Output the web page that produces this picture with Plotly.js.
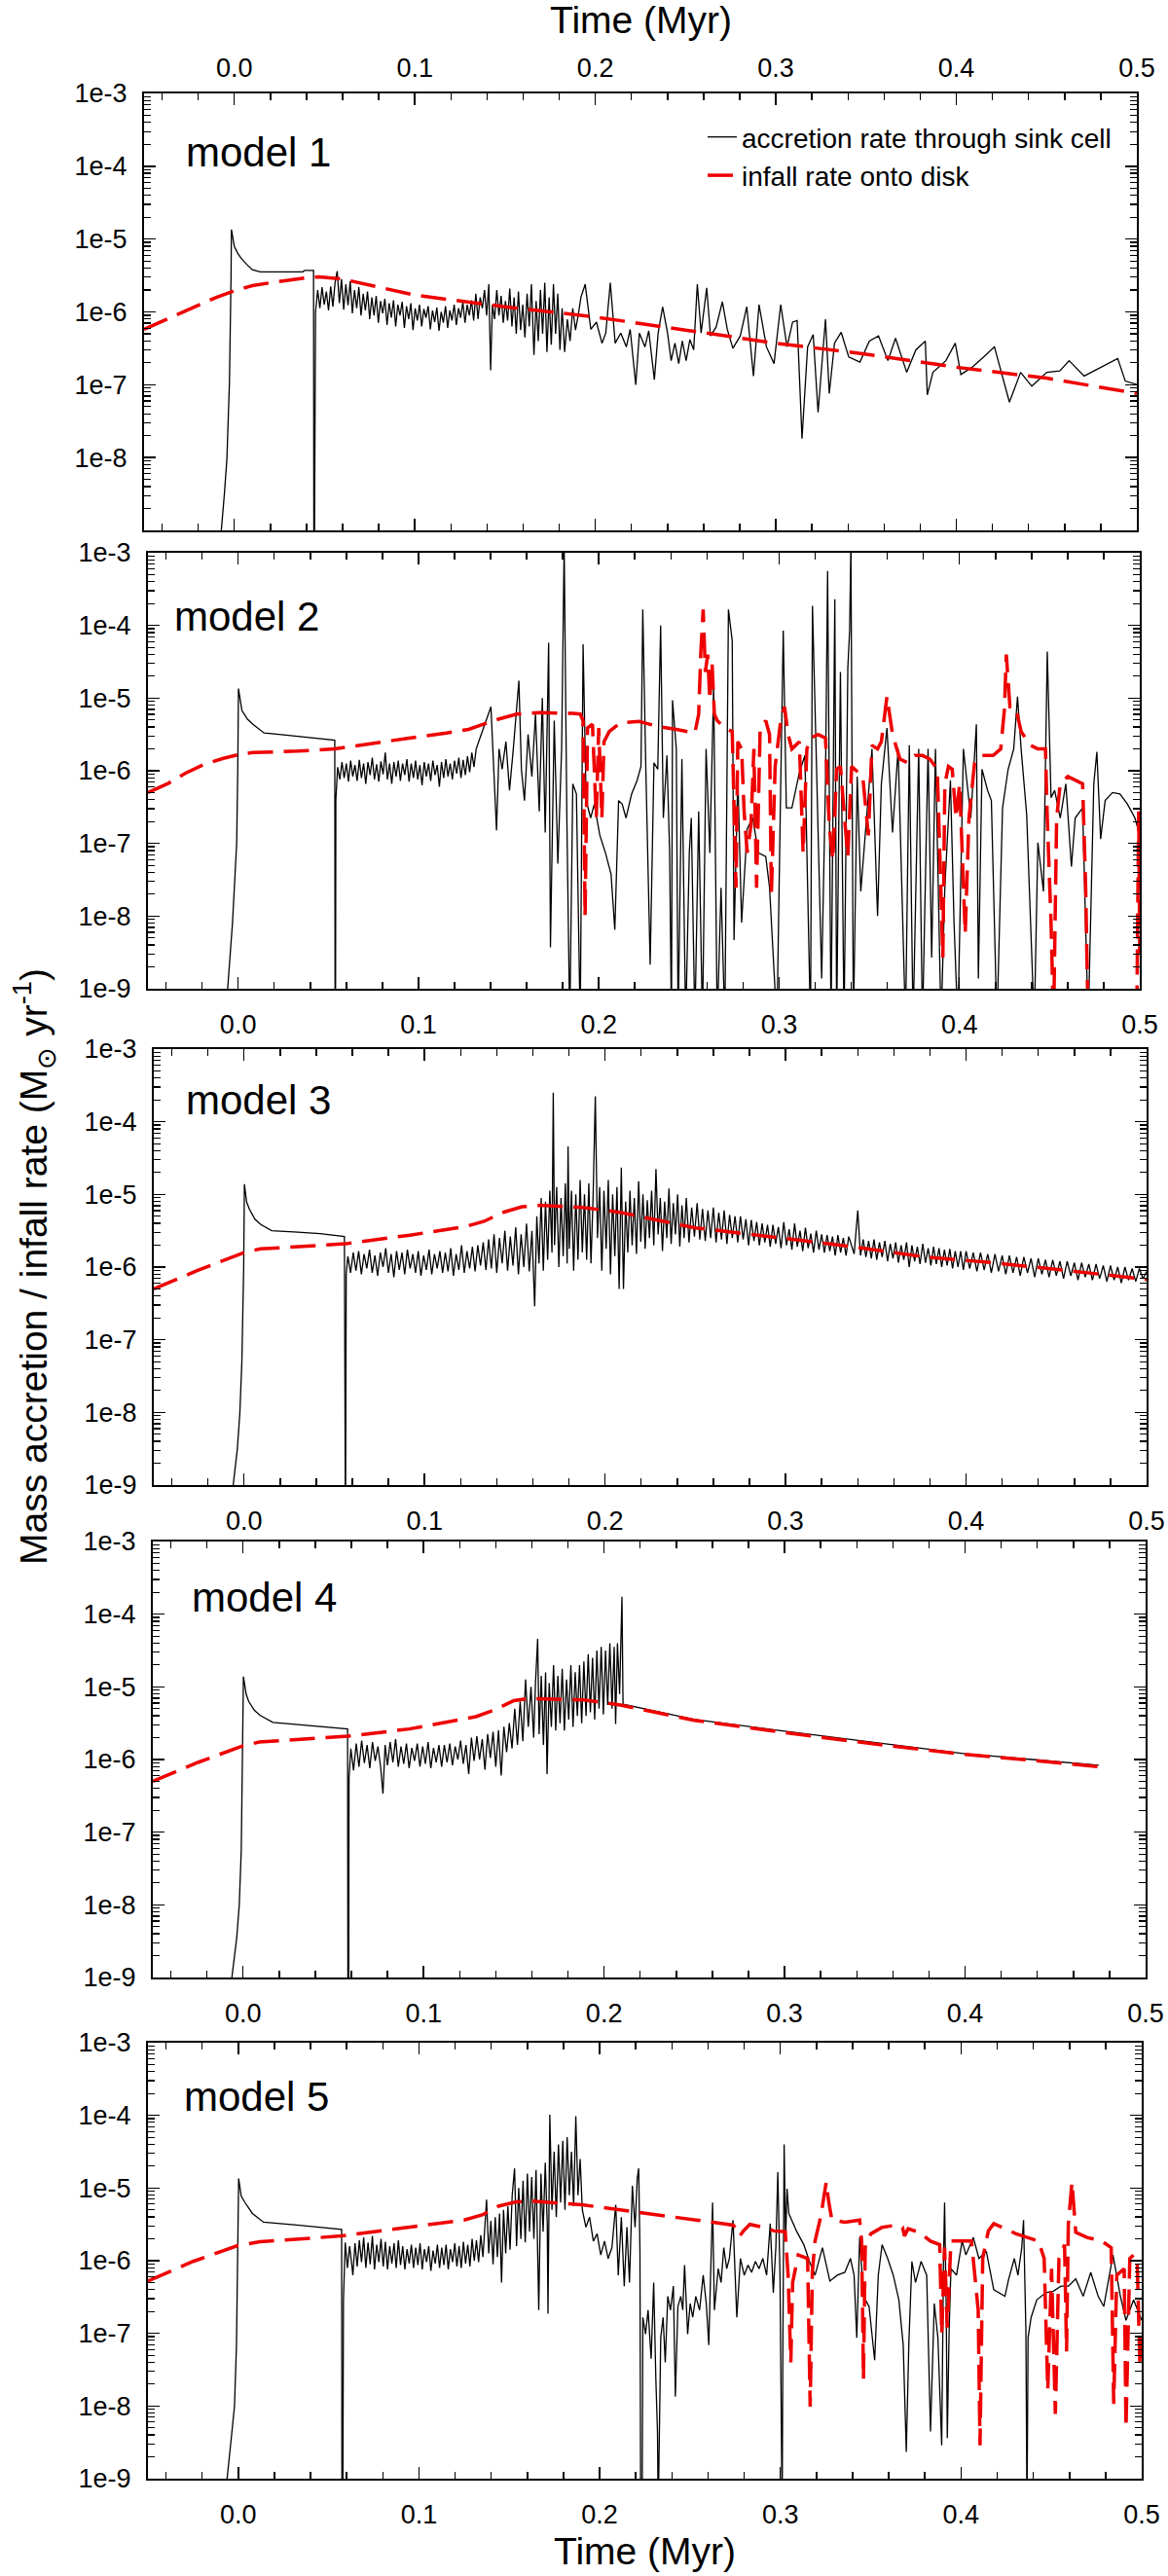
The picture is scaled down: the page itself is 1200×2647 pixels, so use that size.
<!DOCTYPE html>
<html>
<head>
<meta charset="utf-8">
<script src="https://cdn.plot.ly/plotly-3.0.1.min.js"></script>
<style>
html, body {margin: 0; padding: 0; background: #fff;}
#chart {width: 1200px; height: 2647px;}
</style>
</head>
<body>
<div id="chart"></div>
<script>
// values: [time (Myr), log10 of rate (Msun/yr)]
// points below -9 / above -3 sit outside the axis range and get clipped, as in the original

const m1_acc = [
	[-0.0080,-9.6],[-0.0072,-9.0],[-0.0055,-8.5],[-0.0041,-8.02],[-0.0027,-6.97],[-0.0020,-6.0],[-0.0018,-5.5],[-0.0016,-4.87],
	[-0.0010,-4.98],[0.0,-5.10],[0.002,-5.20],[0.004,-5.27],[0.007,-5.35],[0.010,-5.42],[0.0144,-5.45],[0.025,-5.45],[0.038,-5.45],
	[0.039,-5.43],[0.0439,-5.43],[0.0441,-9.8],[0.0443,-9.8],
	[0.0450,-6.00],[0.0462,-5.70],[0.0474,-5.95],[0.0486,-5.66],[0.0498,-5.90],[0.0510,-5.72],[0.0522,-5.98],[0.0534,-5.65],
	[0.0546,-5.93],[0.0558,-5.60],[0.0570,-5.44],[0.0582,-5.88],[0.0594,-5.55],[0.0606,-5.97],[0.0618,-5.62],[0.0630,-5.91],
	[0.0642,-5.58],[0.0654,-6.02],[0.0666,-5.70],[0.0678,-5.95],[0.0690,-5.66],[0.0702,-6.05],[0.0714,-5.75],[0.0726,-5.98],
	[0.0738,-5.72],[0.0750,-6.10],[0.0762,-5.80],[0.0774,-6.05],[0.0786,-5.78],[0.0798,-6.15],[0.0810,-5.85],[0.0822,-6.02],
	[0.0834,-5.82],[0.0846,-6.18],[0.0858,-5.88],[0.0870,-6.08],[0.0882,-5.84],[0.0894,-6.20],[0.0906,-5.90],[0.0918,-6.05],
	[0.0930,-5.86],[0.0942,-6.22],[0.0954,-5.92],[0.0966,-6.10],[0.0978,-5.88],[0.0990,-6.25],[0.1002,-5.95],[0.1014,-6.12],
	[0.1026,-5.90],[0.1038,-6.20],[0.1050,-5.96],[0.1062,-6.08],[0.1074,-5.92],[0.1086,-6.24],[0.1098,-5.98],[0.1110,-6.14],
	[0.1122,-5.94],[0.1134,-6.26],[0.1146,-6.00],[0.1158,-6.15],[0.1170,-5.92],[0.1182,-6.22],[0.1194,-5.98],[0.1206,-6.12],
	[0.1218,-5.90],[0.1230,-6.18],[0.1242,-5.95],[0.1254,-6.08],[0.1266,-5.86],[0.1278,-6.15],[0.1290,-5.90],[0.1302,-6.05],
	[0.1314,-5.84],[0.1326,-6.12],[0.1338,-5.75],[0.1350,-6.10],[0.1362,-5.80],[0.1374,-5.95],[0.1386,-5.70],[0.1398,-6.05],
	[0.1410,-5.62],[0.1420,-6.80],[0.1430,-5.90],[0.1442,-6.10],[0.1454,-5.70],[0.1466,-6.05],[0.1478,-5.78],[0.1490,-6.15],
	[0.1502,-5.85],[0.1514,-6.12],[0.1526,-5.68],[0.1538,-6.20],[0.1550,-5.80],[0.1562,-6.30],[0.1574,-5.72],[0.1586,-6.25],
	[0.1598,-5.90],[0.1610,-6.35],[0.1622,-5.75],[0.1634,-6.20],[0.1646,-5.62],[0.1660,-6.59],[0.1672,-5.85],[0.1684,-6.40],
	[0.1696,-5.70],[0.1708,-6.30],[0.1720,-5.60],[0.1732,-6.55],[0.1744,-5.80],[0.1756,-6.45],[0.1768,-5.62],[0.1780,-6.30],
	[0.1792,-5.75],[0.1804,-6.52],[0.1816,-5.95],[0.1830,-6.55],[0.1845,-6.10],[0.1860,-6.40],[0.1875,-5.95],[0.1890,-6.25],
	[0.1905,-6.05],[0.1920,-5.80],
	[0.1944,-5.62],[0.1975,-6.24],[0.2006,-6.14],[0.2037,-6.43],[0.2058,-6.29],[0.2083,-5.60],[0.2110,-6.43],[0.2141,-6.29],
	[0.2172,-6.48],[0.2193,-6.24],[0.2224,-7.00],[0.2244,-6.29],[0.2275,-6.48],[0.2296,-6.26],[0.2327,-6.93],[0.2348,-6.29],
	[0.2373,-5.93],[0.2400,-6.29],[0.2420,-6.67],[0.2441,-6.43],[0.2462,-6.71],[0.2482,-6.40],[0.2503,-6.67],[0.2524,-6.38],
	[0.2545,-6.52],[0.2565,-5.62],[0.2586,-6.29],[0.2617,-5.67],[0.2638,-6.33],[0.2669,-6.21],[0.2704,-5.86],[0.2731,-6.24],
	[0.2762,-6.50],[0.2803,-6.33],[0.2839,-5.93],[0.2876,-6.88],[0.2907,-5.90],[0.2948,-6.48],[0.2990,-6.71],[0.3027,-5.90],
	[0.3062,-6.48],[0.3093,-6.14],[0.3118,-6.12],[0.3145,-7.74],[0.3176,-6.48],[0.3207,-6.31],[0.3234,-7.38],[0.3275,-6.10],
	[0.3296,-7.12],[0.3325,-6.43],[0.3362,-6.28],[0.3404,-6.62],[0.3466,-6.69],[0.3518,-6.40],[0.3569,-6.33],[0.3621,-6.67],
	[0.3663,-6.36],[0.3725,-6.83],[0.3776,-6.52],[0.3828,-6.40],[0.3839,-7.14],[0.3870,-6.83],[0.3942,-6.67],[0.3994,-6.43],
	[0.4025,-6.86],[0.4087,-6.76],[0.4159,-6.60],[0.4211,-6.48],[0.4294,-7.24],[0.4356,-6.83],[0.4418,-7.02],[0.4501,-6.83],
	[0.4573,-6.81],[0.4625,-6.67],[0.4708,-6.88],[0.4812,-6.74],[0.4894,-6.64],[0.4936,-6.95],[0.5004,-7.00]
];
const m1_inf = [
	[-0.05,-6.24],[-0.04,-6.13],[-0.03,-6.02],[-0.02,-5.91],[-0.01,-5.80],[0.0,-5.71],[0.01,-5.64],[0.02,-5.60],[0.03,-5.56],
	[0.04,-5.53],[0.047,-5.52],[0.06,-5.55],[0.08,-5.66],[0.10,-5.77],[0.15,-5.93],[0.20,-6.07],[0.25,-6.25],[0.30,-6.43],
	[0.35,-6.58],[0.40,-6.76],[0.45,-6.91],[0.50,-7.12]
];

const m2_acc = [
	[-0.0066,-9.6],[-0.0058,-9.0],[-0.0031,-8.09],[-0.0014,-7.13],[-0.0008,-7.0],[-0.0002,-6.0],[0.0002,-4.87],[0.0021,-5.17],
	[0.0052,-5.29],[0.0082,-5.36],[0.0144,-5.48],[0.0227,-5.50],[0.033,-5.53],[0.0433,-5.55],[0.0536,-5.58],[0.0538,-9.8],[0.0540,-9.8],
	[0.0542,-6.40],[0.0552,-5.95],[0.0564,-6.12],[0.0576,-5.88],[0.0588,-6.10],[0.0600,-5.90],[0.0612,-6.15],[0.0624,-5.86],
	[0.0636,-6.08],[0.0648,-5.92],[0.0660,-6.14],[0.0672,-5.85],[0.0684,-6.10],[0.0696,-5.90],[0.0708,-6.18],[0.0720,-5.88],
	[0.0732,-6.06],[0.0744,-5.82],[0.0756,-6.12],[0.0768,-5.91],[0.0780,-6.15],[0.0792,-5.87],[0.0804,-6.05],[0.0816,-5.75],
	[0.0828,-6.12],[0.0840,-5.90],[0.0852,-6.18],[0.0864,-5.88],[0.0876,-6.08],[0.0888,-5.86],[0.0900,-6.14],[0.0912,-5.90],
	[0.0924,-6.06],[0.0936,-5.84],[0.0948,-6.15],[0.0960,-5.90],[0.0972,-6.10],[0.0984,-5.86],[0.0996,-6.12],[0.1008,-5.92],
	[0.1020,-6.20],[0.1032,-5.88],[0.1044,-6.08],[0.1056,-5.90],[0.1068,-6.14],[0.1080,-5.86],[0.1092,-6.06],[0.1104,-5.92],
	[0.1116,-6.22],[0.1128,-5.88],[0.1140,-6.10],[0.1152,-5.84],[0.1164,-6.08],[0.1176,-5.90],[0.1188,-6.12],[0.1200,-5.86],
	[0.1212,-6.04],[0.1224,-5.82],[0.1236,-6.10],[0.1248,-5.85],[0.1260,-6.06],[0.1272,-5.80],[0.1284,-6.02],[0.1296,-5.75],
	[0.1308,-5.95],[0.1320,-5.70],
	[0.1402,-5.12],[0.1419,-6.18],[0.1433,-6.82],[0.1447,-5.70],[0.1464,-5.98],[0.1485,-5.60],[0.1505,-6.27],[0.1526,-5.70],
	[0.1557,-4.76],[0.1571,-5.98],[0.1588,-6.41],[0.1608,-5.50],[0.1629,-6.08],[0.1649,-5.22],[0.1670,-6.56],[0.1687,-5.00],
	[0.1703,-6.85],[0.1722,-4.24],[0.1732,-8.43],[0.1753,-5.31],[0.1773,-7.28],[0.1794,-5.70],[0.1808,-2.90],[0.1823,-6.65],
	[0.1839,-9.5],[0.1856,-6.18],[0.1876,-6.32],[0.1897,-9.5],
	[0.1913,-4.26],[0.1930,-6.41],[0.1955,-6.65],[0.1975,-6.46],[0.2006,-6.89],[0.2037,-7.13],[0.2068,-7.42],[0.2089,-8.19],
	[0.2110,-6.41],[0.2130,-6.46],[0.2151,-6.65],[0.2182,-6.32],[0.2213,-6.13],[0.2234,-5.94],[0.2244,-3.78],[0.2261,-5.98],
	[0.2285,-8.67],[0.2306,-5.89],[0.2327,-5.98],[0.2343,-4.00],[0.2358,-6.65],[0.2378,-5.79],[0.2393,-7.13],[0.2403,-9.5],
	[0.2409,-5.03],[0.2430,-5.70],[0.2440,-9.5],[0.2461,-5.84],[0.2482,-9.5],[0.2502,-7.13],[0.2513,-6.65],[0.2533,-9.5],
	[0.2554,-6.56],[0.2575,-9.5],[0.2595,-5.70],[0.2616,-7.13],[0.2637,-4.83],[0.2657,-9.5],[0.2678,-7.61],[0.2699,-9.5],
	[0.2719,-3.78],[0.2740,-4.21],[0.2750,-8.33],[0.2771,-6.08],[0.2792,-8.09],[0.2823,-6.80],[0.2854,-6.65],[0.2885,-7.13],
	[0.2926,-7.18],[0.2947,-7.61],[0.2968,-8.62],[0.2988,-9.5],[0.3009,-6.18],[0.3023,-4.07],[0.3040,-6.51],[0.3071,-6.51],
	[0.3112,-6.03],[0.3143,-5.79],[0.3174,-9.5],[0.3185,-3.73],[0.3205,-5.70],[0.3236,-8.86],[0.3257,-6.18],[0.3269,-3.25],
	[0.3288,-9.5],[0.3309,-3.64],[0.3319,-9.5],[0.3340,-4.64],[0.3360,-9.5],[0.3381,-4.59],[0.3391,-4.07],[0.3398,-2.90],
	[0.3412,-9.5],[0.3433,-6.08],[0.3453,-7.66],[0.3484,-6.65],[0.3515,-5.70],[0.3546,-8.00],[0.3567,-6.18],[0.3598,-5.41],
	[0.3629,-6.85],[0.3660,-5.70],[0.3701,-9.5],[0.3722,-5.65],[0.3743,-9.5],[0.3774,-5.70],[0.3795,-9.5],[0.3826,-5.70],
	[0.3846,-8.57],[0.3867,-5.70],[0.3898,-9.5],[0.3919,-7.61],[0.3950,-6.13],[0.3970,-8.09],[0.3991,-9.5],[0.4022,-5.70],
	[0.4063,-6.65],[0.4094,-5.36],[0.4105,-8.86],[0.4125,-5.98],[0.4156,-6.27],[0.4177,-6.41],[0.4208,-9.5],[0.4239,-6.51],
	[0.4270,-5.98],[0.4301,-5.70],[0.4322,-4.98],[0.4342,-5.70],[0.4373,-6.61],[0.4415,-9.5],[0.4435,-6.99],[0.4466,-7.66],
	[0.4487,-4.36],[0.4508,-6.37],[0.4528,-6.27],[0.4559,-6.65],[0.4590,-6.18],[0.4621,-7.32],[0.4642,-6.65],[0.4683,-6.51],
	[0.4714,-9.5],[0.4745,-6.18],[0.4762,-5.74],[0.4783,-6.94],[0.4808,-6.41],[0.4849,-6.30],[0.4890,-6.32],[0.4932,-6.46],
	[0.4973,-6.65],[0.5000,-6.89]
];
const m2_inf = [
	[-0.05,-6.30],[-0.0392,-6.18],[-0.0289,-6.03],[-0.0186,-5.91],[-0.0082,-5.83],[0.0,-5.78],[0.0082,-5.75],[0.033,-5.73],
	[0.0536,-5.70],[0.0742,-5.62],[0.0948,-5.55],[0.1155,-5.48],[0.1278,-5.43],[0.1361,-5.36],[0.1443,-5.29],[0.1546,-5.22],
	[0.167,-5.20],[0.1856,-5.21],[0.1897,-5.22],[0.1913,-5.31],[0.1924,-8.00],[0.1938,-5.41],[0.1965,-5.36],[0.1986,-6.65],
	[0.2000,-5.41],[0.2017,-6.65],[0.2029,-5.60],[0.2058,-5.46],[0.2120,-5.34],[0.2223,-5.32],[0.2327,-5.39],[0.2430,-5.43],
	[0.2533,-5.48],[0.2554,-5.22],[0.2566,-4.36],[0.2579,-3.78],[0.2591,-4.64],[0.2604,-4.40],[0.2616,-5.03],[0.2628,-4.50],
	[0.2641,-5.22],[0.2657,-5.31],[0.2699,-5.41],[0.2740,-5.46],[0.2750,-6.65],[0.2761,-7.61],[0.2771,-5.60],[0.2792,-5.70],
	[0.2806,-6.56],[0.2823,-7.13],[0.2844,-6.75],[0.2860,-5.70],[0.2875,-7.61],[0.2895,-5.41],[0.2926,-5.31],[0.2947,-5.50],
	[0.2957,-7.71],[0.2978,-5.94],[0.3009,-5.31],[0.3030,-5.12],[0.3050,-5.50],[0.3071,-5.70],[0.3112,-5.60],[0.3133,-7.13],
	[0.3154,-5.70],[0.3174,-5.55],[0.3216,-5.50],[0.3257,-5.55],[0.3278,-6.75],[0.3298,-7.23],[0.3319,-5.98],[0.3340,-5.94],
	[0.3360,-6.56],[0.3381,-7.18],[0.3402,-5.94],[0.3464,-6.08],[0.3495,-6.89],[0.3515,-5.65],[0.3546,-5.70],[0.3567,-5.60],
	[0.3598,-4.98],[0.3613,-5.22],[0.3629,-5.50],[0.3670,-5.84],[0.3712,-5.89],[0.3753,-5.79],[0.3795,-5.79],[0.3836,-5.84],
	[0.3877,-5.98],[0.3894,-7.37],[0.3908,-8.57],[0.3919,-6.18],[0.3939,-5.94],[0.3960,-5.98],[0.3981,-6.65],[0.4001,-6.18],
	[0.4032,-8.24],[0.4053,-6.65],[0.4084,-5.89],[0.4125,-5.79],[0.4187,-5.79],[0.4229,-5.70],[0.4249,-5.17],[0.4260,-4.40],
	[0.4280,-5.12],[0.4311,-5.12],[0.4342,-5.46],[0.4394,-5.65],[0.4435,-5.70],[0.4477,-5.70],[0.4487,-6.65],[0.4508,-8.09],
	[0.4522,-9.5],[0.4539,-6.65],[0.4559,-6.18],[0.4601,-6.08],[0.4642,-6.13],[0.4683,-6.18],[0.4700,-7.61],[0.4714,-9.5],
	[0.4983,-9.5],[0.4994,-6.56],[0.5000,-8.52]
];

const m3_acc = [
	[-0.0074,-9.6],[-0.0060,-9.0],[-0.0037,-8.5],[-0.0023,-8.0],[-0.0012,-7.3],[-0.0006,-6.59],[-0.0002,-6.01],[0.0002,-4.86],
	[0.0014,-5.10],[0.0029,-5.20],[0.0060,-5.34],[0.0091,-5.41],[0.0153,-5.50],[0.0298,-5.52],[0.0421,-5.54],[0.0556,-5.58],
	[0.0558,-9.8],[0.0562,-9.8],[0.0566,-6.10],
	[0.0575,-5.85],[0.0590,-6.08],[0.0605,-5.80],[0.0620,-6.05],[0.0635,-5.78],[0.0650,-6.10],[0.0665,-5.82],[0.0680,-6.02],
	[0.0695,-5.76],[0.0710,-6.08],[0.0725,-5.84],[0.0740,-6.12],[0.0755,-5.80],[0.0770,-6.00],[0.0785,-5.74],[0.0800,-6.08],
	[0.0815,-5.82],[0.0830,-6.14],[0.0845,-5.78],[0.0860,-6.04],[0.0875,-5.80],[0.0890,-6.10],[0.0905,-5.76],[0.0920,-6.02],
	[0.0935,-5.82],[0.0950,-6.08],[0.0965,-5.78],[0.0980,-6.12],[0.0995,-5.84],[0.1010,-6.04],[0.1025,-5.76],[0.1040,-6.10],
	[0.1055,-5.82],[0.1070,-6.02],[0.1085,-5.78],[0.1100,-6.08],[0.1115,-5.80],[0.1130,-6.06],[0.1145,-5.74],[0.1160,-6.12],
	[0.1175,-5.82],[0.1190,-6.04],[0.1205,-5.70],[0.1220,-6.08],[0.1235,-5.78],[0.1250,-6.02],[0.1265,-5.72],[0.1280,-6.06],
	[0.1295,-5.70],[0.1310,-5.98],[0.1325,-5.66],[0.1340,-6.04],
	[0.1355,-5.62],[0.1370,-6.02],[0.1385,-5.55],[0.1400,-6.08],[0.1415,-5.60],[0.1430,-5.95],[0.1445,-5.50],[0.1460,-6.05],
	[0.1475,-5.58],[0.1490,-5.98],[0.1505,-5.45],[0.1520,-6.10],[0.1535,-5.55],[0.1550,-6.00],[0.1565,-5.40],[0.1580,-6.06],
	[0.1595,-5.50],[0.1610,-6.54],[0.1622,-5.30],[0.1634,-5.95],[0.1646,-5.05],[0.1658,-6.05],[0.1670,-5.10],[0.1682,-5.90],
	[0.1694,-4.95],[0.1706,-5.80],[0.1713,-3.60],[0.1720,-5.70],[0.1732,-4.90],[0.1744,-6.00],[0.1756,-5.05],[0.1768,-5.85],
	[0.1780,-4.85],[0.1790,-5.95],[0.1795,-4.34],[0.1802,-5.75],[0.1814,-4.95],[0.1826,-6.05],[0.1838,-5.00],[0.1850,-5.90],
	[0.1862,-4.80],[0.1874,-5.80],[0.1886,-5.00],
	[0.1898,-5.90],[0.1910,-4.85],[0.1922,-5.95],[0.1934,-5.00],[0.1946,-3.65],[0.1958,-5.60],[0.1970,-4.90],[0.1982,-6.05],
	[0.1994,-4.95],[0.2006,-5.75],[0.2018,-4.80],[0.2030,-6.10],[0.2042,-5.00],[0.2054,-5.85],[0.2066,-4.90],[0.2078,-6.30],
	[0.2090,-4.63],[0.2102,-6.30],[0.2114,-5.10],[0.2126,-5.80],[0.2138,-4.95],[0.2150,-5.70],[0.2162,-5.05],[0.2174,-5.82],
	[0.2186,-4.82],[0.2198,-5.65],[0.2210,-5.00],[0.2222,-5.75],[0.2234,-5.08],[0.2246,-5.60],[0.2258,-4.95],[0.2270,-5.70],
	[0.2282,-4.65],[0.2294,-5.55],[0.2306,-5.05],[0.2318,-5.78],[0.2330,-5.10],[0.2342,-5.60],[0.2354,-4.92],[0.2366,-5.68],
	[0.2378,-5.12],[0.2390,-5.55],[0.2402,-5.00],[0.2414,-5.72],[0.2426,-5.15],[0.2438,-5.60],[0.2450,-5.05],[0.2465,-5.66],
	[0.2480,-5.18],[0.2495,-5.58],[0.2510,-5.12],[0.2525,-5.62],[0.2540,-5.20],[0.2555,-5.64],[0.2570,-5.22],[0.2585,-5.60],
	[0.2600,-5.18],[0.2615,-5.66],[0.2630,-5.25],[0.2645,-5.62],[0.2660,-5.22],[0.2675,-5.68],[0.2690,-5.28],[0.2705,-5.60],
	[0.2720,-5.30],[0.2735,-5.66],[0.2750,-5.30],[0.2765,-5.62],[0.2780,-5.34],[0.2795,-5.70],[0.2810,-5.35],[0.2825,-5.64],
	[0.2840,-5.38],[0.2855,-5.70],[0.2870,-5.40],[0.2885,-5.66],[0.2900,-5.42],[0.2915,-5.72],[0.2930,-5.42],[0.2945,-5.68],
	[0.2960,-5.45],[0.2975,-5.74],[0.2990,-5.38],[0.3005,-5.70],[0.3020,-5.48],[0.3035,-5.76],[0.3050,-5.40],[0.3065,-5.72],
	[0.3080,-5.50],[0.3095,-5.78],[0.3110,-5.46],[0.3125,-5.74],[0.3140,-5.54],[0.3155,-5.80],[0.3170,-5.50],[0.3185,-5.76],
	[0.3200,-5.55],[0.3215,-5.80],[0.3230,-5.56],[0.3245,-5.78],[0.3260,-5.58],[0.3275,-5.84],[0.3290,-5.56],[0.3305,-5.80],
	[0.3320,-5.60],[0.3335,-5.84],[0.3350,-5.58],[0.3380,-5.82],[0.3400,-5.22],[0.3415,-5.84],[0.3430,-5.62],[0.3445,-5.86],
	[0.3460,-5.64],[0.3475,-5.88],[0.3490,-5.62],[0.3505,-5.90],[0.3520,-5.66],[0.3535,-5.86],[0.3550,-5.64],[0.3565,-5.92],
	[0.3580,-5.68],[0.3595,-5.88],[0.3610,-5.66],[0.3625,-5.94],[0.3640,-5.70],[0.3655,-5.90],[0.3670,-5.66],[0.3685,-6.00],
	[0.3700,-5.70],[0.3715,-5.92],[0.3730,-5.72],[0.3745,-5.96],[0.3760,-5.68],[0.3775,-5.94],[0.3790,-5.74],[0.3805,-5.98],
	[0.3820,-5.72],[0.3835,-5.96],[0.3850,-5.74],[0.3865,-6.00],[0.3880,-5.76],[0.3895,-5.98],[0.3910,-5.75],[0.3925,-6.02],
	[0.3940,-5.78],[0.3955,-6.00],[0.3970,-5.78],[0.3985,-6.04],[0.4000,-5.78],[0.4020,-6.02],[0.4040,-5.80],[0.4060,-6.06],
	[0.4080,-5.80],[0.4100,-6.04],[0.4120,-5.82],[0.4140,-6.08],[0.4160,-5.82],[0.4180,-6.06],[0.4200,-5.84],[0.4220,-6.10],
	[0.4240,-5.84],[0.4260,-6.08],[0.4280,-5.86],[0.4300,-6.12],[0.4320,-5.86],[0.4340,-6.08],[0.4360,-5.88],[0.4380,-6.14],
	[0.4400,-5.88],[0.4420,-6.10],[0.4440,-5.90],[0.4460,-6.14],[0.4480,-5.90],[0.4500,-6.12],[0.4520,-5.92],[0.4540,-6.16],
	[0.4560,-5.92],[0.4580,-6.12],[0.4600,-5.94],[0.4620,-6.18],[0.4640,-5.94],[0.4660,-6.14],[0.4680,-5.96],[0.4700,-6.18],
	[0.4720,-5.96],[0.4740,-6.16],[0.4760,-5.98],[0.4780,-6.20],[0.4800,-5.98],[0.4820,-6.18],[0.4840,-6.00],[0.4860,-6.22],
	[0.4880,-6.00],[0.4900,-6.18],[0.4920,-6.02],[0.4940,-6.20],[0.4960,-6.02],[0.4980,-6.16],[0.5000,-6.06]
];
const m3_inf = [
	[-0.05,-6.30],[-0.026,-6.05],[0.0,-5.80],[0.009,-5.75],[0.056,-5.68],[0.092,-5.56],[0.123,-5.44],[0.133,-5.37],[0.143,-5.25],
	[0.154,-5.17],[0.164,-5.15],[0.188,-5.18],[0.209,-5.25],[0.25,-5.46],[0.298,-5.60],[0.337,-5.72],[0.377,-5.86],[0.415,-5.94],
	[0.457,-6.05],[0.50,-6.17]
];

const m4_acc = [
	[-0.0076,-9.6],[-0.0062,-9.0],[-0.0035,-8.45],[-0.0021,-8.0],[-0.0010,-7.25],[-0.0004,-6.30],[0.0002,-4.86],[0.0017,-5.10],
	[0.0031,-5.20],[0.0062,-5.32],[0.0093,-5.39],[0.0165,-5.49],[0.030,-5.52],[0.0444,-5.55],[0.0579,-5.58],[0.0581,-9.8],
	[0.0585,-9.8],[0.0587,-6.25],
	[0.0597,-5.85],[0.0612,-6.15],[0.0627,-5.78],[0.0642,-6.10],[0.0657,-5.74],[0.0672,-6.05],[0.0687,-5.80],[0.0702,-6.12],
	[0.0717,-5.76],[0.0732,-6.02],[0.0747,-5.82],[0.0762,-6.10],[0.0775,-6.47],[0.0787,-5.80],[0.0800,-6.08],[0.0815,-5.76],
	[0.0830,-6.04],[0.0845,-5.72],[0.0860,-6.10],[0.0875,-5.82],[0.0890,-6.06],[0.0905,-5.78],[0.0920,-6.12],[0.0935,-5.84],
	[0.0950,-6.02],[0.0965,-5.78],[0.0980,-6.10],[0.0995,-5.82],[0.1010,-6.06],[0.1025,-5.76],[0.1040,-6.12],[0.1055,-5.84],
	[0.1070,-6.04],[0.1085,-5.80],[0.1100,-6.10],[0.1115,-5.80],[0.1130,-6.04],[0.1145,-5.78],[0.1160,-6.08],[0.1175,-5.82],
	[0.1190,-6.00],[0.1205,-5.74],[0.1220,-6.06],[0.1235,-5.80],[0.1250,-6.20],[0.1265,-5.70],[0.1280,-6.02],[0.1295,-5.68],
	[0.1310,-6.00],[0.1325,-5.72],[0.1340,-6.14],[0.1355,-5.65],[0.1370,-5.98],[0.1385,-5.62],[0.1400,-6.10],[0.1415,-5.60],
	[0.1430,-6.22],[0.1445,-5.55],[0.1460,-5.90],[0.1475,-5.50],[0.1490,-5.85],[0.1505,-5.30],[0.1520,-5.80],[0.1535,-5.20],
	[0.1550,-5.75],[0.1565,-4.90],[0.1580,-5.55],[0.1595,-5.00],[0.1610,-5.70],[0.1620,-4.95],[0.1632,-4.34],[0.1640,-5.65],
	[0.1652,-4.85],[0.1664,-5.80],[0.1676,-4.80],[0.1684,-6.20],[0.1696,-4.95],[0.1708,-5.55],[0.1720,-4.70],[0.1732,-5.60],
	[0.1744,-4.85],[0.1756,-5.50],[0.1768,-4.75],[0.1780,-5.60],[0.1792,-4.90],[0.1804,-5.45],[0.1816,-4.70],[0.1828,-5.55],
	[0.1840,-4.80],[0.1852,-5.40],[0.1864,-4.70],[0.1876,-5.50],
	[0.1888,-4.65],[0.1900,-5.40],[0.1912,-4.55],[0.1924,-5.35],[0.1936,-4.60],[0.1948,-5.45],[0.1960,-4.50],[0.1972,-5.30],
	[0.1984,-4.45],[0.1996,-5.38],[0.2008,-4.50],[0.2020,-5.25],[0.2032,-4.40],[0.2044,-5.30],[0.2056,-4.45],[0.2064,-5.51],
	[0.2074,-4.40],[0.2086,-5.10],[0.2099,-3.76],[0.2105,-5.24],
	[0.25,-5.45],[0.30,-5.61],[0.354,-5.78],[0.40,-5.92],[0.437,-6.00],[0.474,-6.08]
];
const m4_inf = [
	[-0.05,-6.30],[-0.025,-6.04],[0.0,-5.81],[0.009,-5.76],[0.058,-5.68],[0.092,-5.58],[0.129,-5.41],[0.139,-5.32],[0.150,-5.19],
	[0.158,-5.16],[0.189,-5.18],[0.209,-5.25],[0.25,-5.46],[0.30,-5.63],[0.354,-5.80],[0.40,-5.93],[0.437,-6.01],[0.474,-6.10]
];

const m5_acc = [
	[-0.0076,-9.6],[-0.0062,-9.0],[-0.0035,-8.35],[-0.0021,-8.0],[-0.0010,-7.16],[-0.0004,-6.2],[0.0002,-4.87],[0.0016,-5.11],
	[0.0037,-5.20],[0.0078,-5.35],[0.014,-5.47],[0.0325,-5.51],[0.0449,-5.54],[0.0572,-5.57],[0.0574,-9.8],[0.0578,-9.8],[0.0582,-6.54],
	[0.0592,-5.75],[0.0604,-6.10],[0.0616,-5.80],[0.0628,-6.05],[0.0634,-6.20],[0.0646,-5.76],[0.0658,-6.08],[0.0670,-5.72],
	[0.0682,-6.02],[0.0694,-5.68],[0.0706,-6.10],[0.0718,-5.75],[0.0730,-6.05],[0.0742,-5.66],[0.0754,-6.12],[0.0766,-5.78],
	[0.0778,-6.02],[0.0790,-5.70],[0.0802,-6.08],[0.0814,-5.74],[0.0826,-6.12],[0.0838,-5.80],[0.0850,-6.04],[0.0862,-5.76],
	[0.0874,-6.10],[0.0886,-5.72],[0.0898,-6.06],[0.0910,-5.80],[0.0922,-6.12],[0.0934,-5.84],[0.0946,-6.04],[0.0958,-5.78],
	[0.0970,-6.10],[0.0982,-5.82],[0.0994,-6.06],[0.1006,-5.76],[0.1018,-6.12],[0.1030,-5.84],[0.1042,-6.02],[0.1054,-5.80],
	[0.1066,-6.14],[0.1078,-5.86],[0.1090,-6.04],[0.1102,-5.78],[0.1114,-6.10],[0.1126,-5.82],[0.1138,-6.06],[0.1150,-5.78],
	[0.1162,-6.12],[0.1174,-5.84],[0.1186,-6.02],[0.1198,-5.76],[0.1210,-6.08],[0.1222,-5.80],[0.1234,-6.10],[0.1246,-5.74],
	[0.1258,-6.04],[0.1270,-5.78],[0.1282,-6.08],[0.1294,-5.70],[0.1306,-6.00],[0.1318,-5.72],[0.1330,-6.02],[0.1342,-5.65],
	[0.1354,-5.95],
	[0.1374,-5.16],[0.1386,-5.90],[0.1398,-5.45],[0.1410,-6.05],[0.1422,-5.40],[0.1434,-5.95],[0.1446,-5.35],[0.1457,-6.30],
	[0.1468,-5.30],[0.1480,-5.90],[0.1492,-5.25],[0.1504,-5.85],[0.1516,-5.10],[0.1529,-4.73],[0.1540,-5.80],[0.1552,-5.00],
	[0.1564,-5.70],[0.1576,-4.90],[0.1588,-5.75],[0.1600,-4.80],[0.1612,-5.60],[0.1624,-4.85],[0.1636,-5.70],[0.1648,-4.75],
	[0.1663,-6.68],[0.1675,-4.80],[0.1687,-5.60],[0.1699,-4.65],[0.1710,-5.50],[0.1714,-6.73],[0.1724,-3.99],[0.1736,-5.30],
	[0.1748,-4.50],[0.1760,-5.40],[0.1772,-4.40],[0.1784,-5.20],[0.1796,-4.35],[0.1808,-5.30],[0.1820,-4.30],[0.1832,-5.10],
	[0.1844,-4.50],[0.1856,-5.25],[0.1868,-4.01],[0.1880,-5.10],[0.1892,-4.60],[0.1904,-5.30],
	[0.1924,-5.54],[0.1944,-5.40],[0.1965,-5.73],[0.1986,-5.63],[0.2006,-5.92],[0.2027,-5.73],[0.2047,-5.97],[0.2068,-5.82],
	[0.2089,-5.23],[0.2103,-6.20],[0.2120,-5.40],[0.2136,-6.35],[0.2151,-5.54],[0.2165,-6.30],[0.2181,-4.97],[0.2196,-5.54],
	[0.2208,-4.87],[0.2216,-4.73],[0.2223,-5.87],[0.2227,-9.5],[0.2235,-9.5],[0.2239,-6.78],[0.2254,-7.01],[0.2268,-6.68],
	[0.2285,-7.35],[0.2299,-6.30],[0.2311,-7.63],[0.2320,-8.35],[0.2324,-9.5],[0.2330,-8.11],[0.2338,-7.06],[0.2351,-6.78],
	[0.2363,-7.40],[0.2377,-6.49],[0.2392,-6.68],[0.2408,-6.35],[0.2419,-7.87],[0.2433,-6.63],[0.2449,-6.49],[0.2460,-6.68],
	[0.2470,-6.06],[0.2487,-7.01],[0.2501,-6.59],[0.2515,-6.78],[0.2532,-6.49],[0.2553,-6.68],[0.2573,-6.20],[0.2590,-6.59],
	[0.2604,-7.16],[0.2614,-6.20],[0.2625,-5.20],[0.2635,-6.68],[0.2656,-6.11],[0.2672,-6.30],[0.2687,-5.82],[0.2703,-6.11],
	[0.2718,-5.97],[0.2738,-5.44],[0.2748,-6.20],[0.2759,-6.78],[0.2779,-5.97],[0.2800,-6.20],[0.2821,-6.06],[0.2841,-6.16],
	[0.2862,-6.01],[0.2882,-6.11],[0.2903,-5.97],[0.2924,-6.20],[0.2944,-5.49],[0.2961,-6.44],[0.2975,-5.82],[0.2986,-4.78],
	[0.2998,-6.20],[0.3006,-7.82],[0.3010,-9.5],[0.3014,-7.16],[0.3021,-4.40],[0.3029,-5.73],[0.3037,-5.01],[0.3047,-5.35],
	[0.3089,-5.59],[0.3130,-5.78],[0.3161,-6.01],[0.3192,-6.20],[0.3233,-5.82],[0.3274,-6.28],[0.3315,-6.20],[0.3357,-6.16],
	[0.3388,-5.97],[0.3408,-6.20],[0.3423,-7.06],[0.3439,-5.68],[0.3460,-6.49],[0.3491,-6.63],[0.3522,-7.37],[0.3542,-6.20],
	[0.3563,-5.78],[0.3594,-5.97],[0.3625,-6.20],[0.3656,-6.54],[0.3680,-7.16],[0.3697,-8.63],[0.3711,-7.16],[0.3728,-6.01],
	[0.3748,-6.30],[0.3779,-6.01],[0.3810,-6.20],[0.3831,-8.35],[0.3852,-6.59],[0.3872,-7.06],[0.3893,-8.54],[0.3903,-5.97],
	[0.3909,-5.20],[0.3918,-6.68],[0.3924,-8.44],[0.3934,-6.97],[0.3944,-6.11],[0.3975,-6.20],[0.4006,-5.73],[0.4027,-5.92],
	[0.4068,-5.68],[0.4099,-5.97],[0.4140,-5.87],[0.4181,-6.40],[0.4243,-6.49],[0.4264,-6.25],[0.4295,-5.97],[0.4315,-6.20],
	[0.4336,-5.82],[0.4346,-5.44],[0.4359,-6.97],[0.4365,-9.5],[0.4371,-7.06],[0.4388,-6.78],[0.4419,-6.54],[0.4470,-6.44],
	[0.4511,-6.42],[0.4553,-6.35],[0.4594,-6.35],[0.4635,-6.25],[0.4676,-6.49],[0.4718,-6.16],[0.4759,-6.49],[0.4790,-6.63],
	[0.4841,-5.92],[0.4882,-6.49],[0.4913,-6.82],[0.4955,-6.54],[0.5000,-6.82]
];
const m5_inf = [
	[-0.05,-6.28],[-0.025,-6.01],[0.0,-5.79],[0.012,-5.74],[0.057,-5.66],[0.094,-5.54],[0.125,-5.44],[0.135,-5.37],[0.144,-5.25],
	[0.154,-5.19],[0.162,-5.18],[0.190,-5.23],[0.212,-5.30],[0.2326,-5.37],[0.2532,-5.44],[0.2738,-5.51],[0.2759,-5.56],
	[0.2775,-5.66],[0.2796,-5.59],[0.2831,-5.50],[0.2903,-5.54],[0.2965,-5.59],[0.3027,-5.60],[0.3043,-6.20],[0.3058,-7.40],
	[0.3068,-6.30],[0.3099,-5.92],[0.3151,-5.97],[0.3165,-8.01],[0.3177,-6.16],[0.3192,-5.73],[0.3223,-5.40],[0.3243,-5.06],
	[0.3254,-4.92],[0.3266,-5.16],[0.3285,-5.44],[0.3357,-5.47],[0.3439,-5.44],[0.3450,-5.73],[0.3460,-7.63],[0.3470,-5.78],
	[0.3501,-5.63],[0.3563,-5.54],[0.3645,-5.51],[0.3676,-5.54],[0.3687,-5.66],[0.3707,-5.56],[0.3769,-5.61],[0.3831,-5.73],
	[0.3882,-5.78],[0.3893,-7.01],[0.3909,-5.82],[0.3924,-6.92],[0.3944,-5.73],[0.3975,-5.73],[0.4058,-5.73],[0.4095,-6.68],
	[0.4105,-8.54],[0.4120,-5.97],[0.4151,-5.59],[0.4181,-5.49],[0.4243,-5.56],[0.4305,-5.63],[0.4367,-5.68],[0.4429,-5.73],
	[0.4460,-5.97],[0.4480,-7.78],[0.4501,-6.11],[0.4522,-8.11],[0.4542,-5.97],[0.4573,-5.78],[0.4584,-7.25],[0.4594,-5.49],
	[0.4614,-4.92],[0.4635,-5.61],[0.4697,-5.68],[0.4779,-5.73],[0.4831,-5.82],[0.4845,-7.97],[0.4862,-6.20],[0.4903,-6.11],
	[0.4913,-8.30],[0.4934,-5.97],[0.4955,-5.92],[0.4975,-6.01],[0.4990,-7.44],[0.5000,-7.06]
];

const model_names = ['model 1', 'model 2', 'model 3', 'model 4', 'model 5'];
const accretion = [m1_acc, m2_acc, m3_acc, m4_acc, m5_acc];
const infall = [m1_inf, m2_inf, m3_inf, m4_inf, m5_inf];

const decade_vals = [1e-9, 1e-8, 1e-7, 1e-6, 1e-5, 1e-4, 1e-3];
const decade_text = ['1e-9', '1e-8', '1e-7', '1e-6', '1e-5', '1e-4', '1e-3'];

// figure is laid out in pixels of the 1200 x 2647 page
const W = 1200, H = 2647;
const px = v => v / W;
const py = v => 1 - v / H;

// plot frames [left, right, top, bottom] and model label anchor [left, middle]
const frames = [
	[148, 1168, 96, 545],
	[152, 1171, 568, 1016],
	[158, 1178, 1078, 1526],
	[157, 1177, 1584, 2032],
	[152, 1173, 2099, 2547]
];
const label_pos = [[189, 156], [177, 633], [189, 1130], [195, 1641], [187, 2154]];

const minor_vals = [];
for (let e = -9; e < -3; e++) {
	for (let m = 2; m <= 9; m++) minor_vals.push(m * Math.pow(10, e));
}

const ink = '#000';
const red = 'rgb(238,0,0)';

let traces = [];
let layout = {
	width: W,
	height: H,
	margin: {l: 0, r: 0, t: 0, b: 0},
	paper_bgcolor: '#fff',
	plot_bgcolor: '#fff',
	font: {family: '"Liberation Sans", Arial, sans-serif', color: ink, size: 27},
	showlegend: true,
	hovermode: false,
	legend: {
		x: px(722),
		y: py(116),
		xanchor: 'left',
		yanchor: 'top',
		bgcolor: 'rgba(0,0,0,0)',
		font: {size: 28},
		traceorder: 'normal'
	},
	annotations: []
};

frames.forEach((f, i) => {
	const n = i === 0 ? '' : String(i + 1);
	// the top panel leaves its bottom decade unlabelled (it would clash with the panel below)
	const yvals = i === 0 ? decade_vals.slice(1) : decade_vals;
	const ytext = i === 0 ? decade_text.slice(1) : decade_text;

	traces.push({
		type: 'scatter',
		mode: 'lines',
		name: 'accretion rate through sink cell',
		x: accretion[i].map(p => p[0]),
		y: accretion[i].map(p => Math.pow(10, p[1])),
		xaxis: 'x' + n,
		yaxis: 'y' + n,
		line: {color: ink, width: 1.3},
		showlegend: i === 0
	});
	traces.push({
		type: 'scatter',
		mode: 'lines',
		name: 'infall rate onto disk',
		x: infall[i].map(p => p[0]),
		y: infall[i].map(p => Math.pow(10, p[1])),
		xaxis: 'x' + n,
		yaxis: 'y' + n,
		line: {color: red, width: 3.5, dash: '26px,11px'},
		showlegend: i === 0
	});

	layout['xaxis' + n] = {
		domain: [px(f[0]), px(f[1])],
		anchor: 'y' + n,
		side: i === 0 ? 'top' : 'bottom',
		range: [-0.05, 0.5],
		tickmode: 'linear',
		tick0: 0,
		dtick: 0.1,
		tickformat: '.1f',
		ticks: 'inside',
		ticklen: 12,
		tickwidth: 1.5,
		tickcolor: ink,
		ticklabelstandoff: i === 0 ? 4 : 12,
		minor: {ticks: 'inside', ticklen: 7, tickwidth: 1.5, tickcolor: ink, tickmode: 'linear', tick0: 0, dtick: 0.02},
		showline: true,
		linewidth: 2,
		linecolor: ink,
		mirror: 'allticks',
		showgrid: false,
		zeroline: false,
		tickfont: {size: 27}
	};
	layout['yaxis' + n] = {
		domain: [py(f[3]), py(f[2])],
		anchor: 'x' + n,
		type: 'log',
		range: [-9, -3],
		tickmode: 'array',
		tickvals: yvals,
		ticktext: ytext,
		ticks: 'inside',
		ticklen: 12,
		tickwidth: 1.5,
		tickcolor: ink,
		ticklabelstandoff: 10,
		minor: {ticks: 'inside', ticklen: 7, tickwidth: 1.2, tickcolor: ink, tickmode: 'array', tickvals: minor_vals},
		showline: true,
		linewidth: 2,
		linecolor: ink,
		mirror: 'allticks',
		showgrid: false,
		zeroline: false,
		tickfont: {size: 27}
	};

	layout.annotations.push({
		text: model_names[i],
		xref: 'paper', yref: 'paper',
		x: px(label_pos[i][0]), y: py(label_pos[i][1]),
		xanchor: 'left', yanchor: 'middle',
		showarrow: false,
		font: {size: 42}
	});
});

layout.annotations.push({
	text: 'Time (Myr)',
	xref: 'paper', yref: 'paper',
	x: px(658), y: py(20),
	xanchor: 'center', yanchor: 'middle',
	showarrow: false,
	font: {size: 39}
});
layout.annotations.push({
	text: 'Time (Myr)',
	xref: 'paper', yref: 'paper',
	x: px(662), y: py(2621),
	xanchor: 'center', yanchor: 'middle',
	showarrow: false,
	font: {size: 39}
});
layout.annotations.push({
	text: 'Mass accretion / infall rate (M<sub>⊙</sub> yr<sup>-1</sup>)',
	xref: 'paper', yref: 'paper',
	x: px(35), y: py(1302),
	xanchor: 'center', yanchor: 'middle',
	textangle: -90,
	showarrow: false,
	font: {size: 39}
});

Plotly.newPlot('chart', traces, layout, {displayModeBar: false, staticPlot: true});
</script>
</body>
</html>
